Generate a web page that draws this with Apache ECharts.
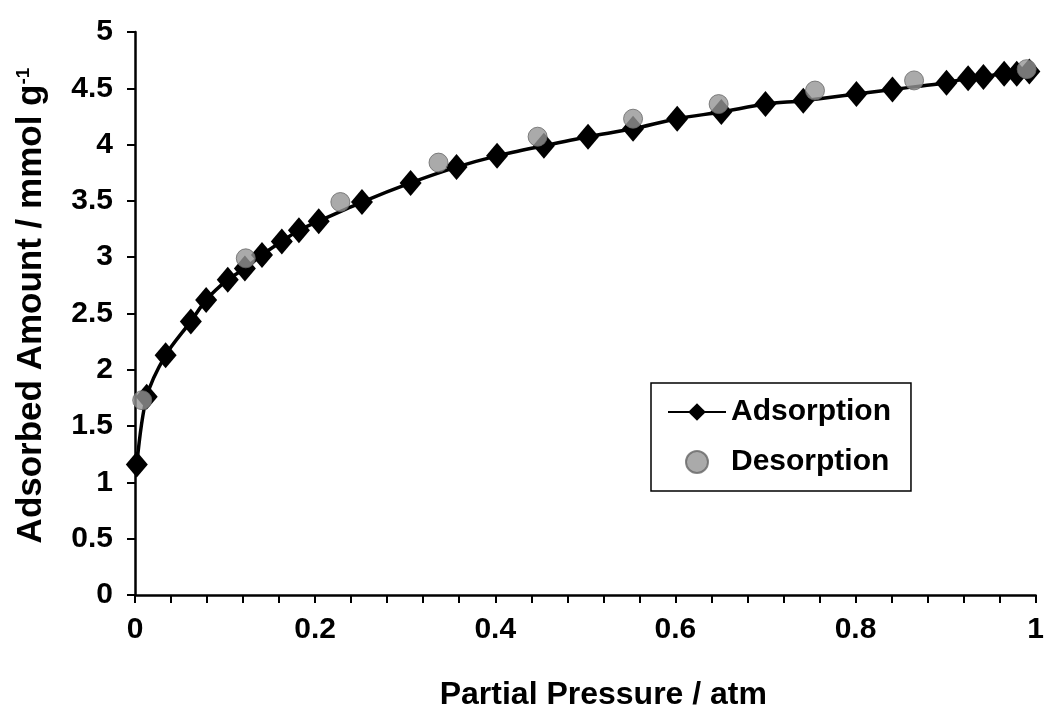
<!DOCTYPE html>
<html>
<head>
<meta charset="utf-8">
<script src="https://cdn.jsdelivr.net/npm/echarts@6/dist/echarts.min.js"></script>
<style>
html,body{margin:0;padding:0;background:#fff;}
#chart{width:1047px;height:724px;}
</style>
</head>
<body>
<div id="chart"></div>
<script>
// Partial pressure (atm) and adsorbed amount (mmol/g)
var adsorptionX = [0.002,0.013,0.034,0.062,0.079,0.103,0.122,0.141,0.163,0.182,0.204,0.252,0.306,0.357,0.402,0.454,0.503,0.553,0.602,0.651,0.700,0.742,0.801,0.841,0.901,0.925,0.942,0.965,0.979,0.993];
var adsorptionY = [1.16,1.76,2.13,2.43,2.62,2.80,2.90,3.02,3.14,3.24,3.32,3.49,3.66,3.80,3.90,3.99,4.07,4.14,4.23,4.29,4.36,4.39,4.45,4.49,4.55,4.59,4.60,4.63,4.63,4.65];
var desorptionX = [0.008,0.123,0.228,0.337,0.447,0.553,0.648,0.755,0.865,0.990];
var desorptionY = [1.73,2.99,3.49,3.84,4.07,4.23,4.36,4.48,4.57,4.67];
var xLabels = ['0','0.2','0.4','0.6','0.8','1'];

function pairs(xs, ys){ return xs.map(function(x,i){ return [x, ys[i]]; }); }

var FONT = '"Liberation Sans", Arial, sans-serif';
var chart = echarts.init(document.getElementById('chart'), null, {renderer:'canvas'});
chart.setOption({
  backgroundColor:'#fff',
  animation:false,
  grid:{left:135, right:7, top:32, bottom:129, containLabel:false},
  xAxis:{
    type:'value', min:0, max:1, interval:0.04,
    name:'Partial Pressure / atm', nameLocation:'middle', nameGap:84,
    nameTextStyle:{fontFamily:FONT, fontSize:32, fontWeight:'bold', color:'#000', padding:[0,0,0,36]},
    axisLine:{show:true, onZero:false, lineStyle:{color:'#000', width:2.5}},
    axisTick:{show:true, inside:false, length:8, lineStyle:{color:'#000', width:2}},
    splitLine:{show:false},
    axisLabel:{margin:20, fontFamily:FONT, fontSize:30, fontWeight:'bold', color:'#000',
      formatter:function(v){
        var k = Math.round(v*5);
        if (Math.abs(v*5 - k) > 1e-6) return '';
        return xLabels[k];
      }}
  },
  yAxis:{
    type:'value', min:0, max:5, interval:0.5,
    name:'Adsorbed Amount / mmol g{sup|-1}', nameLocation:'middle', nameGap:86, nameRotate:90,
    nameTextStyle:{fontFamily:FONT, fontSize:35, fontWeight:'bold', color:'#000', padding:[0,0,0,16],
      rich:{sup:{fontFamily:FONT, fontSize:19, fontWeight:'bold', color:'#000', verticalAlign:'top', padding:[0,0,16,0]}}},
    axisLine:{show:true, lineStyle:{color:'#000', width:2.5}},
    axisTick:{show:true, inside:false, length:8, lineStyle:{color:'#000', width:2}},
    splitLine:{show:false},
    axisLabel:{margin:22, fontFamily:FONT, fontSize:30, fontWeight:'bold', color:'#000'}
  },
  legend:{
    left:651, top:383, orient:'vertical',
    borderColor:'#000', borderWidth:1.5, backgroundColor:'#fff',
    padding:[14,20,14,16], itemGap:20, itemWidth:58, itemHeight:22,
    textStyle:{fontFamily:FONT, fontSize:30, fontWeight:'bold', color:'#000'},
    data:['Adsorption','Desorption']
  },
  series:[
    {
      name:'Adsorption', type:'line', smooth:0.3,
      data:pairs(adsorptionX, adsorptionY),
      symbol:'diamond', symbolSize:[22,26],
      lineStyle:{color:'#000', width:3.5},
      itemStyle:{color:'#000'},
      z:2
    },
    {
      name:'Desorption', type:'scatter',
      data:pairs(desorptionX, desorptionY),
      symbol:'circle', symbolSize:19,
      itemStyle:{color:'#959595', borderColor:'#666', borderWidth:1},
      z:3
    }
  ]
});
</script>
</body>
</html>
